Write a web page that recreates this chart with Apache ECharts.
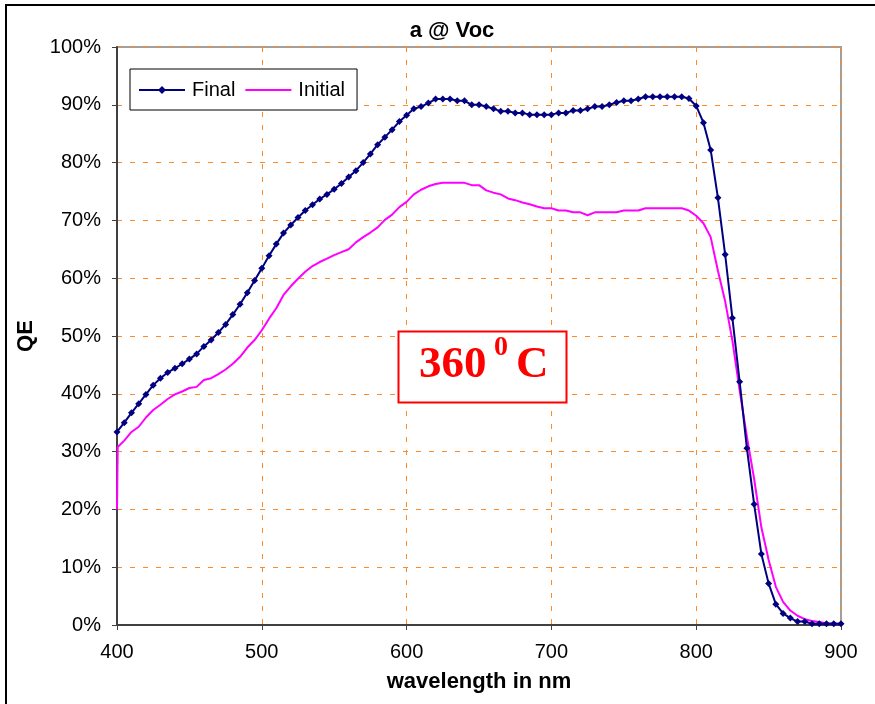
<!DOCTYPE html>
<html>
<head>
<meta charset="utf-8">
<script src="https://cdn.jsdelivr.net/npm/echarts@6/dist/echarts.min.js"></script>
<style>html,body{margin:0;padding:0;background:#fff;}#c{width:875px;height:704px;}</style>
</head>
<body>
<div id="c"></div>
<script>
// Wavelengths (nm) for the Final series
var finalWl = [400,405,410,415,420,425,430,435,440,445,450,455,460,465,470,475,480,485,490,495,
500,505,510,515,520,525,530,535,540,545,550,555,560,565,570,575,580,585,590,595,
600,605,610,615,620,625,630,635,640,645,650,655,660,665,670,675,680,685,690,695,
700,705,710,715,720,725,730,735,740,745,750,755,760,765,770,775,780,785,790,795,
800,805,810,815,820,825,830,835,840,845,850,855,860,865,870,875,880,885,890,895,900];
// QE (%) Final
var finalQE = [33.4,35.0,36.7,38.3,39.9,41.5,42.7,43.7,44.4,45.2,46.0,46.9,48.2,49.3,50.6,52.0,53.7,55.5,57.5,59.6,
61.7,63.9,65.9,67.8,69.2,70.5,71.7,72.7,73.7,74.5,75.4,76.4,77.5,78.6,80.0,81.5,83.1,84.4,85.7,87.1,
88.2,89.3,89.7,90.3,91.0,91.0,91.0,90.7,90.7,90.0,90.0,89.7,89.3,88.9,88.9,88.6,88.6,88.3,88.3,88.3,
88.3,88.6,88.6,89.0,89.0,89.3,89.7,89.7,90.0,90.4,90.7,90.7,91.0,91.4,91.4,91.4,91.4,91.4,91.4,91.1,
89.8,86.9,82.2,73.9,64.1,53.1,42.1,30.6,20.9,12.3,7.2,3.6,2.0,1.2,0.6,0.6,0.2,0.2,0.2,0.2,0.2];
// Wavelengths (nm) for the Initial series
var initialWl = [400,400.5,405,410,415,420,425,430,435,440,445,450,455,460,465,470,475,480,485,490,495,
500,505,510,515,520,525,530,535,540,545,550,555,560,565,570,575,580,585,590,595,
600,605,610,615,620,625,630,635,640,645,650,655,660,665,670,675,680,685,690,695,
700,705,710,715,720,725,730,735,740,745,750,755,760,765,770,775,780,785,790,795,
800,805,810,815,820,825,830,835,840,845,850,855,860,865,870,875,880,885,890,895,900];
// QE (%) Initial
var initialQE = [20.0,30.8,31.9,33.4,34.3,35.9,37.2,38.1,39.1,39.9,40.4,41.0,41.2,42.4,42.7,43.4,44.2,45.2,46.4,48.0,49.3,
51.0,53.0,54.8,57.1,58.6,59.9,61.1,62.1,62.8,63.4,64.0,64.5,65.0,66.2,67.1,67.9,68.8,70.1,71.0,72.3,
73.2,74.5,75.3,75.9,76.3,76.5,76.5,76.5,76.5,76.1,76.1,75.2,74.8,74.5,73.8,73.5,73.1,72.8,72.4,72.1,
72.1,71.7,71.7,71.4,71.4,70.9,71.4,71.4,71.4,71.4,71.7,71.7,71.7,72.1,72.1,72.1,72.1,72.1,72.1,71.7,
70.8,69.5,67.1,61.3,56.0,49.2,40.6,32.6,25.3,16.9,11.3,6.6,4.0,2.5,1.6,1.0,0.7,0.5,0.3,0.2,0.2];

var xTicks = [400,500,600,700,800,900];

function pairs(xs, ys){ var out=[]; for(var i=0;i<xs.length;i++){ out.push([xs[i], ys[i]]); } return out; }

var chart = echarts.init(document.getElementById('c'));
var FONT = 'Liberation Sans, Arial, sans-serif';
var GRID = '#FF8A2A';
chart.setOption({
  animation: false,
  backgroundColor: '#ffffff',
  title: {
    text: 'a @ Voc', left: 447, top: 15, textAlign: 'center',
    textStyle: { fontFamily: FONT, fontSize: 22, fontWeight: 'bold', color: '#000' }
  },
  legend: {
    left: 130, top: 69,
    padding: [11, 12, 10, 8],
    itemWidth: 46, itemHeight: 10, itemGap: 9,
    borderColor: '#000', borderWidth: 1, backgroundColor: '#fff',
    textStyle: { fontFamily: FONT, fontSize: 20, color: '#000', padding: [0,0,0,2] },
    data: ['Final', { name: 'Initial', itemStyle: { opacity: 0 } }]
  },
  grid: {
    left: 117, right: 34, top: 47, bottom: 79,
    show: true, borderColor: '#a0a0a0', borderWidth: 2, backgroundColor: '#fff'
  },
  xAxis: {
    type: 'value', min: 400, max: 900, interval: 100,
    name: 'wavelength in nm', nameLocation: 'middle', nameGap: 46,
    nameTextStyle: { fontFamily: FONT, fontSize: 22, fontWeight: 'bold', color: '#000' },
    axisLine: { show: true, lineStyle: { color: '#404040', width: 2 } },
    axisTick: { show: true, length: 5, lineStyle: { color: '#404040', width: 1 } },
    axisLabel: { fontFamily: FONT, fontSize: 20, color: '#000', margin: 17,
      formatter: function(v){ return xTicks.indexOf(v) >= 0 ? String(v) : ''; } },
    splitLine: { show: true, lineStyle: { color: GRID, type: [5, 8], width: 1 } }
  },
  yAxis: {
    type: 'value', min: 0, max: 100, interval: 10,
    name: 'QE', nameLocation: 'middle', nameGap: 80, nameRotate: 90,
    nameTextStyle: { fontFamily: FONT, fontSize: 22, fontWeight: 'bold', color: '#000' },
    axisLine: { show: true, lineStyle: { color: '#404040', width: 2 } },
    axisTick: { show: true, length: 5, lineStyle: { color: '#404040', width: 1 } },
    axisLabel: { fontFamily: FONT, fontSize: 20, color: '#000', margin: 16, formatter: '{value}%' },
    splitLine: { show: true, lineStyle: { color: GRID, type: [5, 8], width: 1 } }
  },
  series: [
    {
      name: 'Final', type: 'line', data: pairs(finalWl, finalQE),
      symbol: 'diamond', symbolSize: 7, showSymbol: true,
      lineStyle: { color: '#000080', width: 2 },
      itemStyle: { color: '#000080' }, z: 3
    },
    {
      name: 'Initial', type: 'line', data: pairs(initialWl, initialQE),
      symbol: 'none', showSymbol: false,
      lineStyle: { color: '#FF00FF', width: 2 },
      itemStyle: { color: '#FF00FF' }, z: 2
    }
  ],
  graphic: [
    { type: 'rect', shape: { x: 6, y: 5, width: 880, height: 720 }, style: { fill: 'none', stroke: '#000', lineWidth: 2 }, silent: true, z: 100 },
    { type: 'rect', shape: { x: 398.5, y: 331.5, width: 168, height: 71 }, style: { fill: '#fff', stroke: '#FF0000', lineWidth: 2 }, z: 50 },
    { type: 'text', left: 419, top: 343, style: { text: '360', font: 'bold 45px "Liberation Serif", "Times New Roman", serif', fill: '#FF0000' }, z: 51 },
    { type: 'text', left: 494, top: 334, style: { text: '0', font: 'bold 28px "Liberation Serif", "Times New Roman", serif', fill: '#FF0000' }, z: 51 },
    { type: 'text', left: 516, top: 343, style: { text: 'C', font: 'bold 45px "Liberation Serif", "Times New Roman", serif', fill: '#FF0000' }, z: 51 }
  ]
});
</script>
</body>
</html>
